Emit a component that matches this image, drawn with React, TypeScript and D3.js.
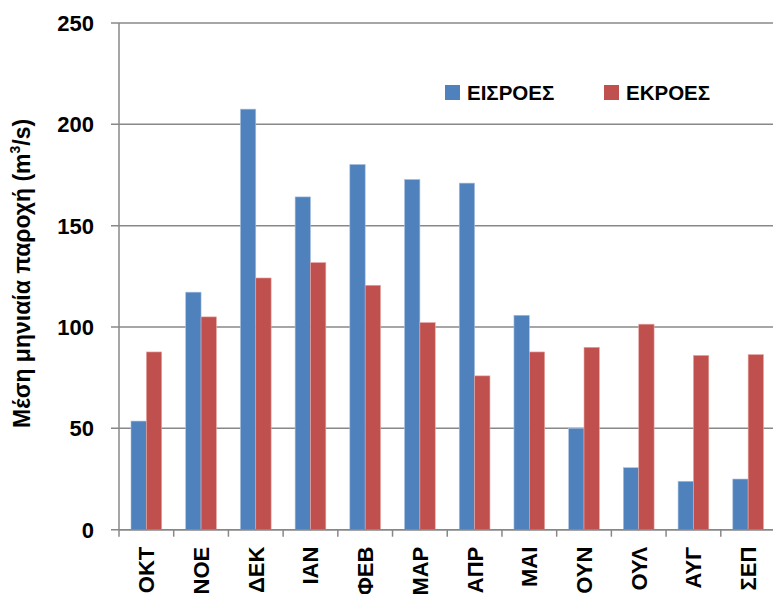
import React, { useRef, useEffect } from 'react';
import * as d3 from 'd3';

const months = ['ΟΚΤ', 'ΝΟΕ', 'ΔΕΚ', 'ΙΑΝ', 'ΦΕΒ', 'ΜΑΡ', 'ΑΠΡ', 'ΜΑΙ', 'ΟΥΝ', 'ΟΥΛ', 'ΑΥΓ', 'ΣΕΠ'];
const inflows = [53.6, 117.2, 207.5, 164.2, 180.2, 172.8, 171, 105.8, 50, 30.6, 23.9, 25];
const outflows = [87.7, 105, 124.2, 131.8, 120.6, 102.2, 75.9, 87.7, 90, 101.4, 86, 86.4];
const seriesNames = ['ΕΙΣΡΟΕΣ', 'ΕΚΡΟΕΣ'];
const colors = ['#4F81BD', '#C0504D'];
const yTicks = [0, 50, 100, 150, 200, 250];

const W = 773;
const H = 594;
const FONT = '"Liberation Sans", Arial, sans-serif';

const App = () => {
  const svgRef = useRef<SVGSVGElement>(null);

  useEffect(() => {
    const svg = d3.select(svgRef.current);
    svg.selectAll('*').remove();

    const left = 119, right = 775.5, top = 23, bottom = 529.7;

    const x = d3.scaleBand().domain(months).range([left, right]).padding(0);
    const x1 = d3.scaleBand().domain(seriesNames).range([12, x.bandwidth() - 12]).padding(0);
    const y = d3.scaleLinear().domain([0, 250]).range([bottom, top]);

    const g = svg.append('g');

    // gridlines
    g.selectAll('line.grid')
      .data(yTicks)
      .join('line')
      .attr('x1', left - 8)
      .attr('x2', right)
      .attr('y1', d => y(d))
      .attr('y2', d => y(d))
      .attr('stroke', '#888')
      .attr('stroke-width', 1.5);

    // bars
    const rows = months.map((m, i) => ({ m, vals: [inflows[i], outflows[i]] }));
    const groups = g.selectAll('g.grp')
      .data(rows)
      .join('g')
      .attr('transform', d => `translate(${x(d.m)},0)`);

    groups.selectAll('rect')
      .data(d => d.vals.map((v, k) => ({ v, k })))
      .join('rect')
      .attr('x', d => x1(seriesNames[d.k]))
      .attr('width', x1.bandwidth())
      .attr('y', d => y(d.v))
      .attr('height', d => y(0) - y(d.v))
      .attr('fill', d => colors[d.k])
      .attr('stroke', d => d.k === 0 ? '#a9c0e0' : '#e5a8a6')
      .attr('stroke-width', 0.6);

    // axes lines
    g.append('line')
      .attr('x1', left).attr('x2', left)
      .attr('y1', top).attr('y2', bottom)
      .attr('stroke', '#888').attr('stroke-width', 1.5);
    g.append('line')
      .attr('x1', left).attr('x2', right)
      .attr('y1', bottom).attr('y2', bottom)
      .attr('stroke', '#888').attr('stroke-width', 1.5);

    // x ticks
    const tickXs = months.map(m => x(m)!).concat([right]);
    g.selectAll('line.xt')
      .data(tickXs)
      .join('line')
      .attr('x1', d => d).attr('x2', d => d)
      .attr('y1', bottom).attr('y2', bottom + 7)
      .attr('stroke', '#888').attr('stroke-width', 1.5);

    // y tick labels
    g.selectAll('text.yl')
      .data(yTicks)
      .join('text')
      .attr('x', 94)
      .attr('y', d => y(d))
      .attr('dy', '0.36em')
      .attr('text-anchor', 'end')
      .attr('font-family', FONT)
      .attr('font-weight', 'bold')
      .attr('font-size', 22)
      .text(d => d);

    // x labels
    g.selectAll('text.xl')
      .data(months)
      .join('text')
      .attr('transform', d => `translate(${x(d)! + x.bandwidth() / 2},${bottom + 17}) rotate(-90)`)
      .attr('dy', '0.36em')
      .attr('text-anchor', 'end')
      .attr('font-family', FONT)
      .attr('font-weight', 'bold')
      .attr('font-size', 22)
      .text(d => d);

    // y title
    const title = g.append('text')
      .attr('transform', `translate(22,${(top + bottom) / 2 - 3}) rotate(-90)`)
      .attr('dy', '0.35em')
      .attr('text-anchor', 'middle')
      .attr('font-family', FONT)
      .attr('font-weight', 'bold')
      .attr('font-size', 23);
    title.append('tspan').text('Μέση μηνιαία παροχή (m');
    title.append('tspan').attr('font-size', 14).attr('dy', '-0.75em').text('3');
    title.append('tspan').attr('dy', '0.45em').text('/s)');

    // legend
    const legendX = [445, 604];
    const lg = g.selectAll('g.lg')
      .data(seriesNames)
      .join('g')
      .attr('transform', (d, i) => `translate(${legendX[i]},85)`);
    lg.append('rect')
      .attr('width', 15).attr('height', 15)
      .attr('fill', (d, i) => colors[i]);
    lg.append('text')
      .attr('x', 22).attr('y', 14.5)
      .attr('font-family', FONT)
      .attr('font-weight', 'bold')
      .attr('font-size', 20.5)
      .text(d => d);
  }, []);

  return (
    <svg
      ref={svgRef}
      width={W}
      height={H}
      style={{ position: 'absolute', left: 0, top: 0, background: '#fff' }}
    />
  );
};

export default App;
